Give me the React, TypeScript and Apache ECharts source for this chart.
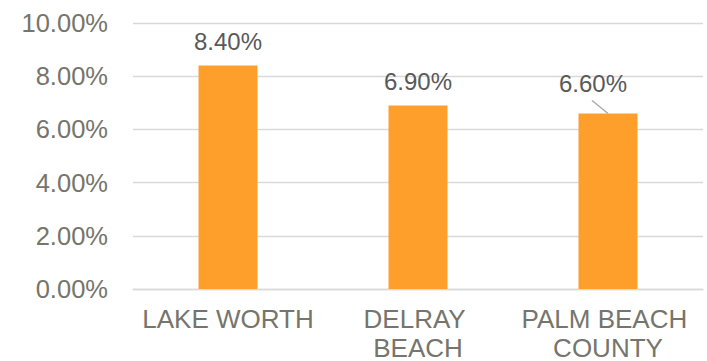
import React, { useEffect, useRef } from "react";
import * as echarts from "echarts";

const categories = ["LAKE WORTH", "DELRAY BEACH", "PALM BEACH COUNTY"];
const values = [8.4, 6.9, 6.6];
const yTicks = { min: 0, max: 10, interval: 2 };

export default function App() {
  const ref = useRef<HTMLDivElement>(null);
  useEffect(() => {
    if (!ref.current) return;
    const chart = echarts.init(ref.current, undefined, { renderer: "svg" });
    chart.setOption({
      animation: false,
      textStyle: { fontFamily: "Liberation Sans, Arial, sans-serif" },
      grid: {
        left: 133,
        right: 4,
        top: 23,
        bottom: 72,
        containLabel: false,
        outerBoundsMode: "none",
      },
      xAxis: {
        type: "category",
        data: categories,
        axisLine: { show: true, lineStyle: { color: "#d9d9d9", width: 1.3 } },
        axisTick: { show: false },
        axisLabel: {
          color: "#75756c",
          fontSize: 26,
          margin: 15,
          lineHeight: 29,
          width: 185,
          overflow: "break",
          interval: 0,
        },
      },
      yAxis: {
        type: "value",
        min: yTicks.min,
        max: yTicks.max,
        interval: yTicks.interval,
        axisLine: { show: false },
        axisTick: { show: false },
        splitLine: { lineStyle: { color: "#d9d9d9", width: 1.3 } },
        axisLabel: {
          color: "#75756c",
          fontSize: 25.5,
          margin: 25,
          formatter: (v: number) => v.toFixed(2) + "%",
        },
      },
      series: [
        {
          type: "bar",
          data: values,
          barWidth: 59,
          itemStyle: { color: "#FF9F2B" },
          label: {
            show: true,
            position: "top",
            distance: 12,
            fontSize: 24,
            color: "#595959",
            formatter: (p: any) => Number(p.value).toFixed(2) + "%",
          },
          labelLayout: (params: any) =>
            params.dataIndex === 2 ? { dx: -15, dy: -6 } : {},
        },
      ],
    });
    const p = chart.convertToPixel({ seriesIndex: 0 }, [2, values[2]]) as number[];
    if (p) {
      chart.setOption({
        graphic: [
          {
            type: "line",
            shape: { x1: p[0] - 16, y1: p[1] - 13, x2: p[0], y2: p[1] },
            style: { stroke: "#a6a6a6", lineWidth: 1.3 },
            silent: true,
          },
        ],
      });
    }
    return () => chart.dispose();
  }, []);
  return (
    <div
      ref={ref}
      style={{ position: "fixed", left: 0, top: 0, width: 707, height: 361, background: "#fff" }}
    />
  );
}
